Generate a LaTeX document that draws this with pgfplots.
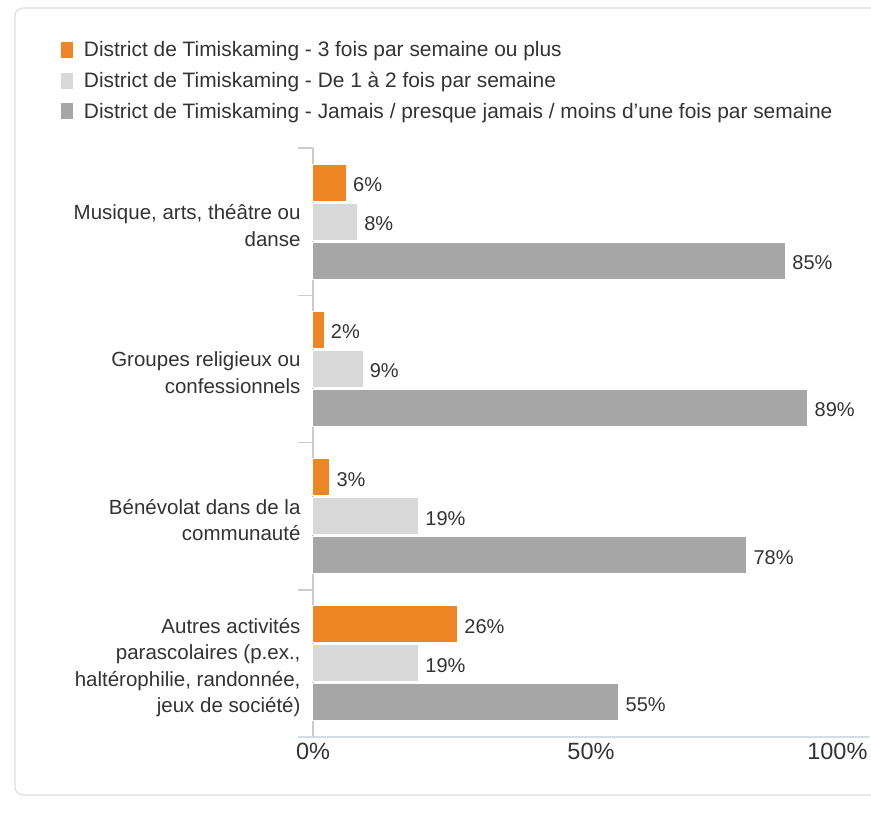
\documentclass[border=0pt]{standalone}
\usepackage{fontspec}
\setmainfont{Liberation Sans}
\usepackage{pgfplots}
\pgfplotsset{compat=1.18}
\definecolor{barorange}{HTML}{EE8626}
\definecolor{barlight}{HTML}{D8D8D8}
\definecolor{bardark}{HTML}{A6A6A6}
\definecolor{txt}{HTML}{333333}
\definecolor{yline}{HTML}{CCCCCC}
\definecolor{xline}{HTML}{D3DDE5}
\definecolor{frame}{HTML}{DDDDDD}

\begin{document}
\begin{tikzpicture}
\useasboundingbox (0,0) rectangle (871pt,823pt);
\draw[frame,line width=1.2pt,rounded corners=8pt] (15pt,28pt) rectangle (890pt,815pt);
\begin{axis}[
  at={(313pt,86pt)}, anchor=south west,
  width=556pt, height=589pt, scale only axis,
  xbar, bar width=37pt,
  xmin=0, xmax=100, ymin=-0.5, ymax=3.5,
  axis x line*=bottom, axis y line*=left,
  x axis line style={xline,line width=2pt,-},
  y axis line style={yline,line width=1.5pt,-},
  xtick={0,50}, xticklabels={0\%,50\%},
  extra x ticks={100}, extra x tick labels={100\%},
  extra x tick style={xticklabel style={anchor=north east,xshift=2pt}},
  major tick length=0pt,
  xticklabel style={font=\fontsize{23.5}{26}\selectfont,text=txt,yshift=-3pt},
  ytick={0,1,2,3},
  yticklabels={{Autres activités\\parascolaires (p.ex.,\\haltérophilie, randonnée,\\jeux de société)},
               {Bénévolat dans de la\\communauté},
               {Groupes religieux ou\\confessionnels},
               {Musique, arts, théâtre ou\\danse}},
  yticklabel style={font=\fontsize{20.5}{26.5}\selectfont,text=txt,align=right,xshift=-9pt,yshift=-4pt},
  minor ytick={0.5,1.5,2.5,3.5},
  minor tick length=15pt, tick align=outside,
  minor tick style={yline,line width=1.5pt},
  clip=false,
  /pgf/number format/assume math mode=true,
  nodes near coords={\pgfmathprintnumber{\pgfplotspointmeta}\%},
  every node near coord/.append style={font=\fontsize{20}{22}\selectfont,text=txt,xshift=3pt,yshift=-2pt},
  legend style={at={(-0.459,1.188)},anchor=north west,draw=none,fill=none,
    font=\fontsize{20.9}{22}\selectfont,text=txt,row sep=10pt,
    /tikz/every odd column/.append style={column sep=9pt}},
  legend cell align=left,
  legend image code/.code={\fill[#1,draw=none] (0pt,-8pt) rectangle (12pt,8pt);},
]
\addplot[fill=barorange,draw=white,line width=1pt,bar shift=39pt]
  coordinates {(6,3) (2,2) (3,1) (26,0)};
\addplot[fill=barlight,draw=white,line width=1pt,bar shift=0pt]
  coordinates {(8,3) (9,2) (19,1) (19,0)};
\addplot[fill=bardark,draw=white,line width=1pt,bar shift=-39pt]
  coordinates {(85,3) (89,2) (78,1) (55,0)};
\legend{District de Timiskaming - 3 fois par semaine ou plus,
        District de Timiskaming - De 1 à 2 fois par semaine,
        District de Timiskaming - Jamais / presque jamais / moins d'une fois par semaine}
\draw[xline,line width=2pt] ([xshift=-15pt]rel axis cs:0,0) -- (rel axis cs:0,0);
\end{axis}
\end{tikzpicture}
\end{document}
